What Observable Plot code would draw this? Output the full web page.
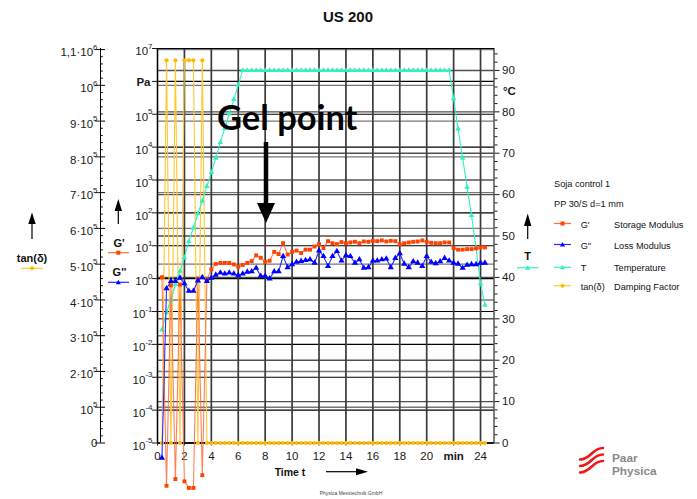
<!DOCTYPE html>
<html><head><meta charset="utf-8">
<script src="https://cdn.jsdelivr.net/npm/d3@7"></script>
<script src="https://cdn.jsdelivr.net/npm/@observablehq/plot@0.6"></script>
<style>
body{margin:0;background:#fff;font-family:"Liberation Sans",Arial,sans-serif;}
#wrap{position:relative;width:697px;height:499px;overflow:hidden;background:#fff;}
#wrap svg{position:absolute;left:0;top:0;}
</style></head><body><div id="wrap"></div>
<script>
// ---- data (time in min) ----
const time = [0.33,0.67,1,1.33,1.67,2,2.33,2.67,3,3.33,3.67,4,4.33,4.67,5,5.33,5.67,6,6.33,6.67,7,7.33,7.67,8,8.33,8.67,9,9.33,9.67,10,10.33,10.67,11,11.33,11.67,12,12.33,12.67,13,13.33,13.67,14,14.33,14.67,15,15.33,15.67,16,16.33,16.67,17,17.33,17.67,18,18.33,18.67,19,19.33,19.67,20,20.33,20.67,21,21.33,21.67,22,22.33,22.67,23,23.33,23.67,24,24.33];
// G' storage modulus, Pa
const storage = [1.1,5e-7,0.63,8e-7,0.66,6.8e-7,4.3e-7,4.3e-7,1.0,1.05e-6,
  0.95,1.9,2.8,3.0,3.0,3.0,2.7,2.3,2.6,3.0,
  3.4,5.1,4.3,3.2,3.5,6.5,5.6,12,5.4,6.5,
  7.1,6.0,7.6,7.6,9.5,11.2,8.5,13.8,12,11.2,
  12.9,12,12.6,13.2,12,13.5,13.2,14.1,13.8,14.5,
  13.5,14.1,13.8,11,12,12.6,13.2,13.5,14.5,13.2,
  12.3,12,12,12.6,12.6,8.5,7.6,7.6,7.9,7.9,
  8.3,8.9,8.9];
// G'' loss modulus, Pa
const loss = [3.5e-6,0.5,0.83,0.83,1.05,0.71,0.42,0.42,0.87,1.1,
  0.83,1.05,1.3,1.5,1.4,1.5,1.4,1.25,1.4,1.6,
  1.65,2.1,1.2,1.2,1.0,1.65,1.65,4.8,2.2,2.7,
  3.2,3.4,3.6,3.8,3.0,7.1,4.8,2.4,4.8,6.8,
  3.5,5.1,4.8,3.0,3.8,2.1,2.2,3.5,3.5,3.8,
  4.0,2.2,4.2,5.8,2.8,2.2,3.3,3.0,2.4,4.8,
  3.2,2.9,3.3,4.2,3.5,3.0,2.8,2.1,2.6,2.7,
  2.7,3.0,3.0];
// tan(delta) damping factor
const tanD = [0,1.07e6,1.3,1.07e6,1.6,1.07e6,1.07e6,1.07e6,0.9,1.07e6,
  0.9,0.55,0.46,0.5,0.47,0.5,0.52,0.54,0.54,0.53,
  0.49,0.41,0.28,0.38,0.29,0.25,0.29,0.4,0.41,0.42,
  0.45,0.57,0.47,0.5,0.32,0.63,0.56,0.17,0.4,0.61,
  0.27,0.43,0.38,0.23,0.32,0.16,0.17,0.25,0.25,0.26,
  0.3,0.16,0.3,0.53,0.23,0.17,0.25,0.22,0.17,0.36,
  0.26,0.24,0.28,0.33,0.28,0.35,0.37,0.28,0.33,0.34,
  0.33,0.34,0.34];
// T temperature, °C
const temp = [27.3,31.5,34.6,38.3,41.5,44.8,48.7,52,55.4,58.5,
  62,65.4,68.8,72.6,76,79.5,83,86.5,90,90,
  90,90,90,90,90,90,90,90,90,90,
  90,90,90,90,90,90,90,90,90,90,
  90,90,90,90,90,90,90,90,90,90,
  90,90,90,90,90,90,90,90,90,90,
  90,90,90,90,90,83.2,75.9,68.8,61.8,55,
  47,38.5,33.3];

// ---- ticks ----
const xTicks = [0,2,4,6,8,10,12,14,16,18,20,22,24];
const decades = [1e-5,1e-4,1e-3,1e-2,1e-1,1,1e1,1e2,1e3,1e4,1e5,1e6,1e7];
const tTicks = [0,10,20,30,40,50,60,70,80,90];
const tanTicks = [0,1e5,2e5,3e5,4e5,5e5,6e5,7e5,8e5,9e5,1e6,1.1e6];
const tanLabels = ["0","10^5","2·10^5","3·10^5","4·10^5","5·10^5","6·10^5","7·10^5","8·10^5","9·10^5","10^6","1,1·10^6"];

const rows = time.map((t,i)=>({t, gp:storage[i], gpp:loss[i], tan:tanD[i], T:temp[i]}));

const W=697,H=499,ML=157,MR=203.5,MT=48,MB=56.5;
const FONT='"Liberation Sans", Arial, Helvetica, sans-serif';
const STYLE={background:"transparent",overflow:"visible",fontFamily:FONT,fontSize:"11.5px",color:"#1a1a1a"};
const logY={type:"log",domain:[1e-5,1e7]};
const tY={domain:[0,95.3]};
const tanY={domain:[0,1.103e6]};
const C={gp:"#ff4200",gpLine:"#ff6a40",gpp:"#0000ff",gppLine:"#2a2aff",T:"#33f0c4",tan:"#ffba00",tanLine:"#ffc830"};

function layer(y, marks, xAxis=false){
  return Plot.plot({width:W,height:H,marginLeft:ML,marginRight:MR,marginTop:MT,marginBottom:MB,
    x: xAxis ? {domain:[0,25]} : {domain:[0,25],axis:null}, y, marks, style:STYLE});
}
const ns="http://www.w3.org/2000/svg";
function supers(svg){
  svg.querySelectorAll("text").forEach(t=>{
    const s=t.textContent;
    if(!s.includes("^")) return;
    const [base,exp]=s.split("^");
    while(t.firstChild) t.removeChild(t.firstChild);
    const a=document.createElementNS(ns,"tspan"); a.textContent=base; t.appendChild(a);
    const b=document.createElementNS(ns,"tspan"); b.textContent=exp;
    b.setAttribute("dy","-6.5"); b.setAttribute("font-size","8"); t.appendChild(b);
    const tr=t.getAttribute("transform")||"";
    t.setAttribute("transform",tr+" translate(0,3)");
  });
}

const wrap=document.getElementById("wrap");
const layers=[];

// tan(δ) axis (own plot, left of the chart)
layers.push(Plot.plot({width:W,height:H,marginLeft:100,marginRight:W-105,marginTop:MT,marginBottom:MB,
  x:{domain:[0,1],axis:null}, y:{...tanY},
  style:STYLE,
  marks:[
    Plot.ruleX([0],{stroke:"#000"}),
    Plot.ruleY(d3.range(0,1.1e6,2e4).filter(v=>v%1e5!==0),{x1:0,x2:0.55,stroke:"#000"}),
    Plot.ruleY(tanTicks,{x1:0,x2:1,stroke:"#000"}),
    Plot.axisY({ticks:tanTicks,tickSize:5,tickPadding:-2,tickFormat:d=>tanLabels[Math.round(d/1e5)],label:null})
  ]}));
// grids
layers.push(layer({...tanY,axis:null},[Plot.gridY({ticks:tanTicks,stroke:"#777",strokeOpacity:1,strokeWidth:1.4})]));
layers.push(layer({...tY,axis:null},[Plot.gridY({ticks:tTicks,stroke:"#505050",strokeOpacity:1,strokeWidth:1.4})]));
layers.push(layer({...logY},[
  Plot.gridY({ticks:decades,stroke:"#000",strokeOpacity:1,strokeWidth:1.1}),
  Plot.gridX({ticks:xTicks,stroke:"#3a3a3a",strokeOpacity:1,strokeWidth:1.7}),
  Plot.frame({stroke:"#000"}),
  Plot.axisY({ticks:decades,anchor:"left",tickSize:5,tickPadding:0,label:null,
    tickFormat:d=>{const e=Math.round(Math.log10(d)); return e===6?"":"10^"+e;}}),
  Plot.text([1e6],{y:d=>d,text:d=>"Pa",frameAnchor:"left",textAnchor:"end",dx:-7,dy:1,fontWeight:"bold"}),
  Plot.axisX({ticks:xTicks,anchor:"bottom",tickSize:3,tickPadding:6,label:null,tickFormat:d=>d===22?"":String(d)}),
  Plot.text([22],{x:d=>d,text:d=>"min",frameAnchor:"bottom",lineAnchor:"top",dy:9,fontWeight:"bold"})
],true));
// data layers
layers.push(layer({...tanY,axis:null},[
  Plot.line(rows,{x:"t",y:"tan",stroke:C.tanLine,strokeWidth:1.1}),
  Plot.dot(rows,{x:"t",y:"tan",r:2.1,fill:C.tan})
]));
layers.push(layer({...tY},[
  Plot.axisY({ticks:tTicks,anchor:"right",tickSize:5,tickPadding:3,label:null,tickFormat:d=>String(d)}),
  Plot.axisY({ticks:d3.range(0,95,2).filter(v=>v%10!==0),anchor:"right",tickSize:3,label:null,tickFormat:()=>""}),
  Plot.text([85],{y:d=>d,text:d=>"°C",frameAnchor:"right",textAnchor:"start",dx:9,fontWeight:"bold"}),
  Plot.line(rows,{x:"t",y:"T",stroke:C.T,strokeWidth:1.1}),
  Plot.dot(rows,{x:"t",y:"T",symbol:"triangle",r:2.1,fill:C.T})
]));
layers.push(layer({...logY,axis:null},[
  Plot.line(rows,{x:"t",y:"gp",stroke:C.gpLine,strokeWidth:1.1,strokeOpacity:0.85}),
  Plot.dot(rows,{x:"t",y:"gp",symbol:"square",r:2.2,fill:C.gp}),
  Plot.line(rows,{x:"t",y:"gpp",stroke:C.gppLine,strokeWidth:1.1}),
  Plot.dot(rows,{x:"t",y:"gpp",symbol:"triangle",r:2.3,fill:C.gpp})
]));
layers.forEach(s=>{supers(s);wrap.appendChild(s);});

// annotations overlay
const ov=`<svg width="697" height="499" viewBox="0 0 697 499" font-family='${FONT}'>
<text x="348" y="22" text-anchor="middle" font-weight="bold" font-size="15" fill="#111">US 200</text>
<text x="217" y="130" font-family="Lato, sans-serif" font-weight="bold" font-size="34.5" fill="#000">Gel point</text>
<line x1="266" y1="142" x2="266" y2="206" stroke="#000" stroke-width="4.5"/>
<path d="M257,203 L275,203 L266,223 Z" fill="#000"/>
<!-- tan(δ) left legend -->
<line x1="32" y1="239" x2="32" y2="222" stroke="#000" stroke-width="1.2"/>
<path d="M28.3,224 L32,212.5 L35.7,224 Z" fill="#000"/>
<text x="32" y="261.5" text-anchor="middle" font-weight="bold" font-size="11" fill="#111">tan(δ)</text>
<line x1="21" y1="268.3" x2="43" y2="268.3" stroke="${C.tanLine}" stroke-width="1.2"/>
<circle cx="32" cy="268.3" r="2" fill="${C.tan}"/>
<!-- G' G'' left legend -->
<line x1="118.3" y1="224" x2="118.3" y2="209" stroke="#000" stroke-width="1.2"/>
<path d="M114.6,211 L118.3,199 L122,211 Z" fill="#000"/>
<text x="119" y="247" text-anchor="middle" font-weight="bold" font-size="11" fill="#111">G'</text>
<line x1="108" y1="252.7" x2="129" y2="252.7" stroke="${C.gpLine}" stroke-width="1.2"/>
<rect x="116.3" y="250.7" width="4" height="4" fill="${C.gp}"/>
<text x="119.5" y="276" text-anchor="middle" font-weight="bold" font-size="11" fill="#111">G''</text>
<line x1="108" y1="282.3" x2="129" y2="282.3" stroke="${C.gppLine}" stroke-width="1.2"/>
<path d="M115.8,284.3 L118.3,279.8 L120.8,284.3 Z" fill="${C.gpp}"/>
<!-- T right -->
<line x1="527.7" y1="239" x2="527.7" y2="224" stroke="#000" stroke-width="1.2"/>
<path d="M524,226 L527.7,213.5 L531.4,226 Z" fill="#000"/>
<text x="527.7" y="260" text-anchor="middle" font-weight="bold" font-size="11" fill="#111">T</text>
<line x1="517" y1="267.7" x2="538.5" y2="267.7" stroke="${C.T}" stroke-width="1.2"/>
<path d="M525.2,269.7 L527.7,265.2 L530.2,269.7 Z" fill="${C.T}"/>
<!-- right legend -->
<g font-size="9.2" fill="#111">
<text x="554" y="187.3">Soja control 1</text>
<text x="554" y="206.7">PP 30/S d=1 mm</text>
<line x1="554" y1="223.5" x2="571" y2="223.5" stroke="${C.gpLine}" stroke-width="1.2"/>
<rect x="560.5" y="221.5" width="4" height="4" fill="${C.gp}"/>
<text x="580.7" y="227.5">G'</text><text x="614" y="227.5">Storage Modulus</text>
<line x1="554" y1="244.5" x2="571" y2="244.5" stroke="${C.gppLine}" stroke-width="1.2"/>
<path d="M560,246.5 L562.5,242 L565,246.5 Z" fill="${C.gpp}"/>
<text x="580.7" y="249">G''</text><text x="614" y="249">Loss Modulus</text>
<line x1="554" y1="267.3" x2="571" y2="267.3" stroke="${C.T}" stroke-width="1.2"/>
<path d="M560,269.3 L562.5,264.8 L565,269.3 Z" fill="${C.T}"/>
<text x="580.7" y="270.7">T</text><text x="614" y="270.7">Temperature</text>
<line x1="554" y1="285.7" x2="571" y2="285.7" stroke="${C.tanLine}" stroke-width="1.2"/>
<circle cx="562.5" cy="285.7" r="2" fill="${C.tan}"/>
<text x="580.7" y="290">tan(δ)</text><text x="614" y="290">Damping Factor</text>
</g>
<!-- time axis label -->
<text x="290" y="476" text-anchor="middle" font-weight="bold" font-size="10.5" fill="#111">Time t</text>
<line x1="326" y1="471.7" x2="358" y2="471.7" stroke="#000" stroke-width="1.2"/>
<path d="M356,468.2 L368,471.7 L356,475.2 Z" fill="#000"/>
<text x="351" y="494.5" text-anchor="middle" font-size="5" fill="#444">Physica Messtechnik GmbH</text>
<!-- logo -->
<g fill="none" stroke="#f01818" stroke-width="2.6" stroke-linecap="round">
<path d="M580,459.5 C591,459.5 592,448 603,448"/>
<path d="M580,466 C591,466 592,454.5 603,454.5"/>
<path d="M580,472.5 C591,472.5 592,461 603,461"/>
</g>
<text x="612" y="462" font-weight="bold" font-size="11.8" fill="#8a8a8a">Paar</text>
<text x="612" y="475" font-weight="bold" font-size="11.8" fill="#8a8a8a">Physica</text>
</svg>`;
wrap.insertAdjacentHTML("beforeend",ov);
</script>
</body></html>
